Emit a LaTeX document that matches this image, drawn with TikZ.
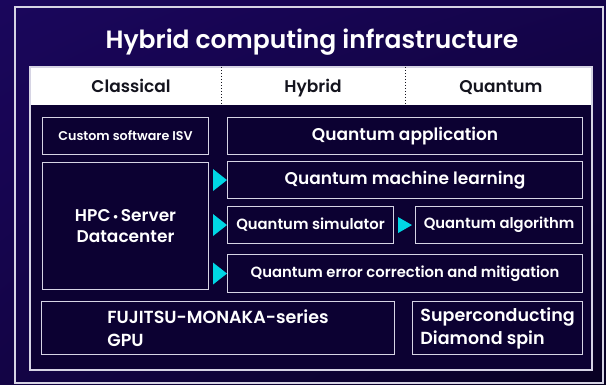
\documentclass[tikz,border=0pt]{standalone}
\usepackage{fontspec}
\setmainfont{Poppins}[BoldFont={Poppins SemiBold}]
\usetikzlibrary{calc,shadings}
\definecolor{bgtop}{RGB}{26,6,92}
\definecolor{bgbot}{RGB}{8,1,34}
\definecolor{panel}{RGB}{12,1,50}
\definecolor{edge}{RGB}{214,212,228}
\definecolor{marker}{RGB}{0,214,228}
\definecolor{ink}{RGB}{20,20,30}
\tikzset{
  x=1pt, y=-1pt,
  box/.style={draw=edge, line width=1.1pt, fill=panel, text=white, font=\bfseries\fontsize{17}{20}\selectfont,
    anchor=north west, inner sep=0pt, align=center},
  smallbox/.style={box, font=\bfseries\fontsize{14.8}{18}\selectfont},
  bigbox/.style={box, font=\bfseries\fontsize{17.5}{23}\selectfont, align=left},
  headlabel/.style={text=ink, anchor=base, font=\bfseries\fontsize{17}{20}\selectfont},
  frame/.style={draw=edge, line width=1.1pt},
  sep/.style={draw=ink, line width=1pt, dotted},
  tri/.style={fill=marker}
}
\begin{document}
\begin{tikzpicture}
\useasboundingbox (0,0) rectangle (606,385);
% background
\shade[upper left=bgtop, upper right=bgtop!70!bgbot, lower left=bgtop!60!bgbot, lower right=bgbot] (0,0) rectangle (606,385);
% outer frame and title
\draw[frame] (15,7) rectangle (603,383);
\node[text=white, anchor=base, font=\bfseries\fontsize{25}{30}\selectfont] (title) at (312,49) {Hybrid computing infrastructure};
% inner panel with its white header band
\fill[panel] (30,67) rectangle (592,370);
\fill[white] (30,67) rectangle (592,105);
\draw[frame] (30,67) rectangle (592,370);
\draw[sep] (221,67) -- (221,105);
\draw[sep] (405,67) -- (405,105);
\node[headlabel] (hclass) at (131,93) {Classical};
\node[headlabel] (hhyb) at (313,93) {Hybrid};
\node[headlabel] (hquant) at (501,93) {Quantum};
% stack of boxes
\node[box, minimum width=166, minimum height=37, font=\bfseries\fontsize{12.7}{15}\selectfont] (custom) at (42,117) {Custom software ISV};
\node[box, minimum width=355, minimum height=37] (qapp) at (227,117) {Quantum application};
\node[box, minimum width=166, minimum height=127] (hpc) at (42,162) {HPC\,{\fontsize{9}{9}\selectfont\raisebox{0.35ex}{$\bullet$}}\,Server\\[1pt]Datacenter};
\node[box, minimum width=355, minimum height=37] (qml) at (227,161) {Quantum machine learning};
\node[smallbox, minimum width=166, minimum height=37] (qsim) at (227,206) {Quantum simulator};
\node[smallbox, minimum width=167, minimum height=37] (qalg) at (415,206) {Quantum algorithm};
\node[smallbox, minimum width=355, minimum height=38] (qerr) at (227,254) {Quantum error correction and mitigation};
\node[bigbox, minimum width=353, minimum height=53] (fuji) at (41,301) {FUJITSU-MONAKA-series\\GPU};
\node[bigbox, minimum width=170, minimum height=53] (supc) at (412,301) {Superconducting\\Diamond spin};
% cyan markers pointing into the hybrid boxes
\foreach \n in {qml,qsim,qerr}
  \fill[tri] ($(\n.west)+(-14,-11)$) -- (\n.west) -- ($(\n.west)+(-14,11)$) -- cycle;
\fill[tri] ($(qalg.west)+(-17,-8)$) -- ($(qalg.west)+(-3,0)$) -- ($(qalg.west)+(-17,8)$) -- cycle;
\end{tikzpicture}
\end{document}
